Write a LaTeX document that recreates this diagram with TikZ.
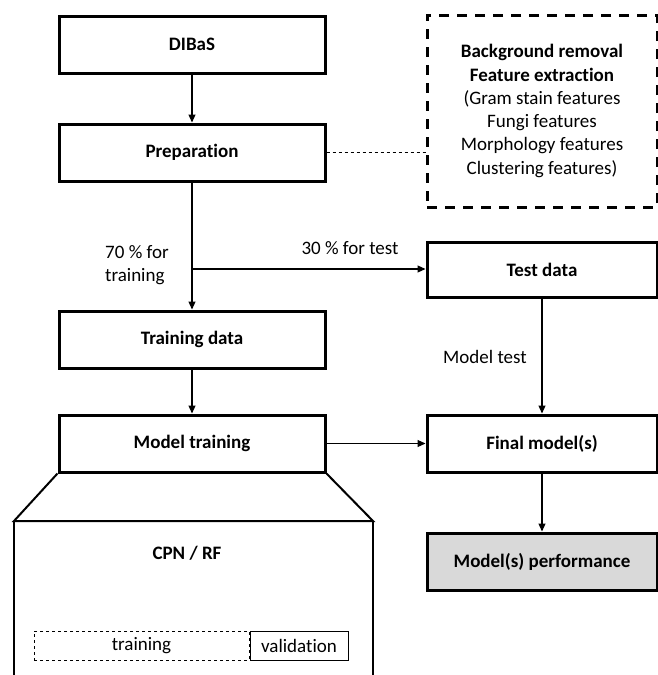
\documentclass[tikz,border=0pt]{standalone}
\usepackage{fontspec}
\setmainfont{Carlito}[Ligatures=NoCommon]
\usetikzlibrary{arrows.meta}

\begin{document}
\begin{tikzpicture}[x=1pt,y=-1pt]
\tikzset{stage/.style={draw,line width=3pt,minimum width=266pt,minimum height=57pt,font=\fontsize{19}{23}\selectfont\bfseries},
    sidestage/.style={stage,minimum width=230pt},
    flow/.style={-{Triangle[length=8pt,width=7pt]},line width=1.1pt},
    lbl/.style={font=\fontsize{19}{23}\selectfont,inner sep=0pt}};
\useasboundingbox (0,0) rectangle (658,675);
    \node[stage] (dibas) at (192,44.5) {DIBaS};
    \node[stage] (prep) at (192,152.5) {Preparation};
    \node[stage] (traindata) at (192,339.5) {Training data};
    \node[stage] (modeltrain) at (192,443.5) {Model training};
    \node[sidestage,minimum height=55pt] (testdata) at (542,269.5) {Test data};
    \node[sidestage] (final) at (542,443.5) {Final model(s)};
    \node[sidestage,fill=black!15] (perf) at (542,561.5) {Model(s) performance};
    \node[draw,line width=3pt,dash pattern=on 10pt off 8pt,minimum width=230pt,minimum height=192pt,
        align=center,font=\fontsize{19}{23.3}\selectfont] (features) at (542,111)
        {\textbf{Background removal}\\\textbf{Feature extraction}\\(Gram stain features\\Fungi features\\Morphology features\\Clustering features)};
    \coordinate (split) at (192,269);
    \draw[flow] (dibas) -- (prep);
    \draw[flow] (prep) -- (traindata);
    \draw[flow] (split) -- (split -| testdata.west);
    \draw[dashed,line width=1pt] (prep.east) -- (prep.east -| features.west);
    \draw[flow] (traindata) -- (modeltrain);
    \draw[flow] (modeltrain) -- (final);
    \draw[flow] (testdata) -- (final);
    \draw[flow] (final) -- (perf);
    \node[lbl,align=left,anchor=west] (split70) at (105,265) {70 \% for\\training};
    \node[lbl] (split30) at (350,248) {30 \% for test};
    \node[lbl] (mtest) at (485,357) {Model test};
    % zoom into model training
    \coordinate (cl) at (14,521);
    \coordinate (cr) at (373,521);
    \draw[line width=2pt,line join=miter] (modeltrain.south west) -- (cl) -- (cr) -- (modeltrain.south east);
    \draw[line width=2pt] (cl) -- (14,676);
    \draw[line width=2pt] (cr) -- (373,676);
    \node[font=\fontsize{19}{23}\selectfont\bfseries] (cpn) at (187,553) {CPN / RF};
    \node[draw,dashed,line width=1pt,minimum width=215pt,minimum height=29pt,lbl] (train) at (141.5,645.5) {training};
    \node[draw,line width=1pt,minimum width=98pt,minimum height=29pt,lbl,anchor=west] (valid) at (train.east) {validation};
\end{tikzpicture}
\end{document}
